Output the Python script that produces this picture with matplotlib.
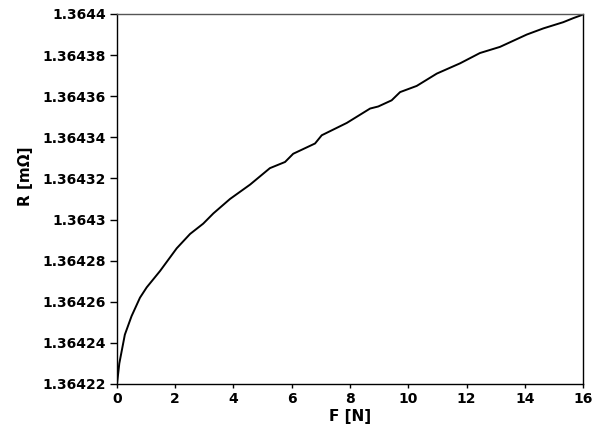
import matplotlib
matplotlib.use('Agg')
import matplotlib.pyplot as plt

# force F [N] and resistance R [mOhm]
force = [0, 0.08, 0.27, 0.50, 0.79, 1.02, 1.48, 2.05, 2.51, 2.96, 3.31, 3.88,
         4.57, 5.25, 5.77, 6.05, 6.80, 7.03, 7.89, 8.69, 8.97, 9.43, 9.72,
         10.29, 10.98, 11.78, 12.46, 13.15, 14.07, 14.64, 15.32, 15.67, 15.96, 16.0]
resist = [1.364220, 1.364230, 1.364244, 1.364253, 1.364262, 1.364267, 1.364275,
          1.364286, 1.364293, 1.364298, 1.364303, 1.364310, 1.364317, 1.364325,
          1.364328, 1.364332, 1.364337, 1.364341, 1.364347, 1.364354, 1.364355,
          1.364358, 1.364362, 1.364365, 1.364371, 1.364376, 1.364381, 1.364384,
          1.364390, 1.364393, 1.364396, 1.364398, 1.3643995, 1.364400]

x_ticks = [0, 2, 4, 6, 8, 10, 12, 14, 16]
y_ticks = [1.36422, 1.36424, 1.36426, 1.36428, 1.3643, 1.36432, 1.36434,
           1.36436, 1.36438, 1.3644]
y_labels = ['1.36422', '1.36424', '1.36426', '1.36428', '1.3643', '1.36432',
            '1.36434', '1.36436', '1.36438', '1.3644']

plt.rcParams['font.family'] = 'DejaVu Sans'
plt.rcParams['font.weight'] = 'bold'

fig = plt.figure(figsize=(5.99, 4.33), dpi=100)
ax = fig.add_axes([0.1953, 0.1132, 0.778, 0.8545])
ax.plot(force, resist, color='black', lw=1.4)

ax.set_xlim(0, 16)
ax.set_ylim(1.36422, 1.3644)
ax.set_xticks(x_ticks)
ax.set_xticklabels([str(t) for t in x_ticks], fontsize=10, fontweight='bold')
ax.set_yticks(y_ticks)
ax.set_yticklabels(y_labels, fontsize=10, fontweight='bold')
ax.tick_params(axis='y', direction='out', length=5, width=1, pad=3)
ax.tick_params(axis='x', direction='out', length=3, width=1, pad=3)

ax.set_xlabel('F [N]', fontsize=11, fontweight='bold', labelpad=2)
ax.set_ylabel('R [m\u03a9]', fontsize=11, fontweight='bold', labelpad=6)
ax.yaxis.set_label_coords(-0.181, 0.562)

for s in ax.spines.values():
    s.set_linewidth(1.0)
    s.set_color('black')
ax.spines['top'].set_color('#555555')

fig.savefig('out.png', dpi=100)
